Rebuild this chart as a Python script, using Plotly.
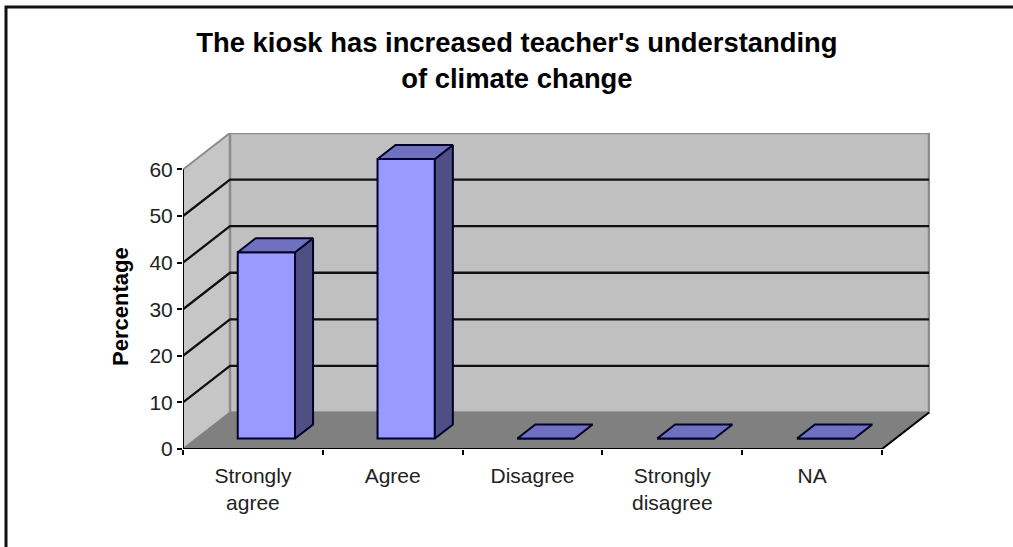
import plotly.graph_objects as go

# data
categories = ["Strongly<br>agree", "Agree", "Disagree", "Strongly<br>disagree", "NA"]
values = [40, 60, 0, 0, 0]
y_ticks = [0, 10, 20, 30, 40, 50, 60]

title_text = "The kiosk has increased teacher's understanding<br>of climate change"
y_title = "Percentage"

# pixel layout of the fake 3d box
W, H = 1013, 547
LEFT, RIGHT, TOP, BOTTOM = 183, 930, 133, 449
CAT_PX = 139.8
VAL_PX = 4.66
DX = 47 / CAT_PX      # depth offset in category units
DY = 36.5 / VAL_PX    # depth offset in value units
BAR_W = 0.41
D0, D1 = 0.287, 0.67  # bar front and back, as share of the box depth
YMAX = 60

LINE = "#000028"


def rect_path(points):
    return "M " + " L ".join(f"{x},{y}" for x, y in points) + " Z"


x0, x1 = -0.5, len(categories) - 0.5

shapes = []
# side wall, back wall, floor
shapes.append(dict(type="path", layer="below", xref="x", yref="y",
                   path=rect_path([(x0, 0), (x0 + DX, DY), (x0 + DX, YMAX + DY), (x0, YMAX)]),
                   fillcolor="#C6C6C6", line=dict(color="#8C8C8C", width=2)))
shapes.append(dict(type="path", layer="below", xref="x", yref="y",
                   path=rect_path([(x0 + DX, DY), (x1 + DX, DY), (x1 + DX, YMAX + DY), (x0 + DX, YMAX + DY)]),
                   fillcolor="#C0C0C0", line=dict(color="#8C8C8C", width=2.5)))
shapes.append(dict(type="path", layer="below", xref="x", yref="y",
                   path=rect_path([(x0, 0), (x1, 0), (x1 + DX, DY), (x0 + DX, DY)]),
                   fillcolor="#808080", line=dict(color="#808080", width=1)))
# gridlines on both walls
for v in y_ticks[1:-1]:
    shapes.append(dict(type="path", layer="below", xref="x", yref="y",
                       path=f"M {x0},{v} L {x0 + DX},{v + DY} L {x1 + DX},{v + DY}",
                       line=dict(color="#101010", width=2.3)))

# page frame, left and top only
fx = (6 - LEFT) / (RIGHT - LEFT)
fy = 1 + (TOP - 7) / (BOTTOM - TOP)
fb = (BOTTOM - H) / (BOTTOM - TOP)
shapes.append(dict(type="path", layer="below", xref="paper", yref="paper",
                   path=f"M {fx},{fb} L {fx},{fy} L {(W - LEFT) / (RIGHT - LEFT)},{fy}",
                   line=dict(color="#111111", width=3)))

fig = go.Figure()

# front faces
bar_x = [i + D0 * DX for i in range(len(values))]
fig.add_trace(go.Bar(x=bar_x, y=values, base=D0 * DY, width=BAR_W,
                     marker=dict(color="#9999FF", line=dict(color=LINE, width=2)),
                     showlegend=False, hoverinfo="skip"))

# side and top faces
for i, v in enumerate(values):
    xl = i - BAR_W / 2 + D0 * DX
    xr = i + BAR_W / 2 + D0 * DX
    b = D0 * DY
    ddx = (D1 - D0) * DX
    ddy = (D1 - D0) * DY
    if v > 0:
        fig.add_trace(go.Scatter(x=[xr, xr + ddx, xr + ddx, xr, xr],
                                 y=[b, b + ddy, b + v + ddy, b + v, b],
                                 mode="lines", fill="toself", fillcolor="#4F4F85",
                                 line=dict(color=LINE, width=2),
                                 showlegend=False, hoverinfo="skip"))
    fig.add_trace(go.Scatter(x=[xl, xr, xr + ddx, xl + ddx, xl],
                             y=[b + v, b + v, b + v + ddy, b + v + ddy, b + v],
                             mode="lines", fill="toself", fillcolor="#7070C0",
                             line=dict(color=LINE, width=2),
                             showlegend=False, hoverinfo="skip"))

# axis lines (front edge and floor edge stay black)
fig.add_trace(go.Scatter(x=[x0, x0, None, x0, x1, x1 + DX],
                         y=[YMAX, 0, None, 0, 0, DY],
                         mode="lines", line=dict(color="#000000", width=2),
                         cliponaxis=False, showlegend=False, hoverinfo="skip"))

fig.update_layout(
    width=W, height=H,
    margin=dict(l=LEFT, r=W - RIGHT, t=TOP, b=H - BOTTOM),
    paper_bgcolor="white", plot_bgcolor="white",
    font=dict(family="Liberation Sans, Arial, sans-serif", color="#222222", size=21),
    title=dict(text=title_text,
               font=dict(size=27.4, weight=700, color="#000000"),
               x=0.447, xanchor="center", xref="paper", yref="container", y=0.905, yanchor="top"),
    shapes=shapes,
    showlegend=False,
    annotations=[dict(text=y_title, xref="paper", yref="paper", showarrow=False,
                      x=(120 - LEFT) / (RIGHT - LEFT), y=(BOTTOM - 307) / (BOTTOM - TOP),
                      xanchor="center", yanchor="middle", textangle=-90,
                      font=dict(size=22, weight=700, color="#000000"))],
)
fig.update_xaxes(range=[x0, x0 + (RIGHT - LEFT) / CAT_PX], tickmode="array",
                 tickvals=list(range(len(categories))), ticktext=categories,
                 ticks="", showgrid=False, zeroline=False, showline=False,
                 tickfont=dict(size=21), automargin=False, ticklabelstandoff=12,
                 minor=dict(tickmode="array", tickvals=[i - 0.5 for i in range(len(categories) + 1)],
                            ticks="outside", ticklen=5, tickwidth=2, tickcolor="#000000", showgrid=False))
fig.update_yaxes(range=[0, YMAX + DY], tickmode="array", tickvals=y_ticks,
                 ticks="outside", ticklen=5, tickwidth=2, tickcolor="#000000",
                 showgrid=False, zeroline=False, showline=False,
                 tickfont=dict(size=21), automargin=False)

fig.write_html("out.html", config={"displayModeBar": False},
               post_script="document.body.style.margin='0';")
